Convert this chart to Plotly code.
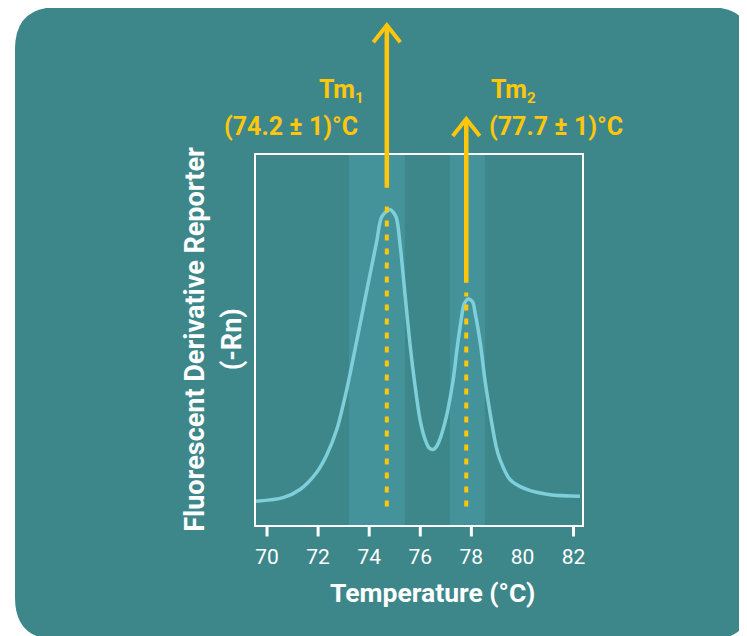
import plotly.graph_objects as go

# ---------------- data ----------------
temperature = [69.57, 70.63, 71.29, 71.94, 72.34, 72.73, 73.12, 73.51, 73.90, 74.29,
               74.49, 74.81, 75.05, 75.21, 75.40, 75.60, 75.79, 75.99,
               76.19, 76.34, 76.51, 76.66, 76.77, 76.93, 77.07, 77.29, 77.45, 77.59,
               77.72, 77.88, 78.05, 78.14, 78.37, 78.53, 78.73, 78.97, 79.12, 79.51,
               80.17, 81.08, 82.25]
derivative = [0.064, 0.074, 0.096, 0.142, 0.190, 0.258, 0.366, 0.497, 0.632, 0.765,
              0.833, 0.853, 0.833, 0.757, 0.625, 0.487, 0.379, 0.285,
              0.231, 0.209, 0.204, 0.215, 0.232, 0.268, 0.308, 0.393, 0.482, 0.549,
              0.598, 0.611, 0.603, 0.576, 0.482, 0.393, 0.304, 0.212, 0.177, 0.123,
              0.096, 0.082, 0.078]

tm_positions = [74.69, 77.80]          # where the marker lines sit
tm_names = ["Tm", "Tm"]
tm_subscripts = ["1", "2"]
tm_values = ["(74.2 ± 1)°C", "(77.7 ± 1)°C"]
band_low = [73.21, 77.16]
band_high = [75.40, 78.53]

tick_values = [70, 72, 74, 76, 78, 80, 82]
tick_labels = ["70", "72", "74", "76", "78", "80", "82"]
tick_mark_values = [70, 72, 74, 76, 78, 82]   # the 80 tick has no mark in the original

x_title = "Temperature (°C)"
y_title_lines = ["Fluorescent Derivative Reporter", "(-Rn)"]

# ---------------- styling ----------------
TEAL = "#3D878B"
BAND = "#45939A"
CURVE = "#7ECFD9"
YELLOW = "#FFC60B"
WHITE = "#FFFFFF"
BOLD_FONT = "Roboto"

OFF = 8                       # page body margin
W, H = 747 - OFF, 636 - OFF
L_REF, T_REF, R_REF, B_REF = 256, 155, 582, 525.5   # plot frame in window pixels
L, T = L_REF - OFF, T_REF - OFF
R, B = W - (R_REF - OFF), H - (B_REF - OFF)
pw, ph = R_REF - L_REF, B_REF - T_REF
X_RANGE = [69.568, 82.332]

def px_to_paper_x(px):
    return (px - L_REF) / pw

def py_to_paper_y(py):
    return (B_REF - py) / ph

fig = go.Figure()

fig.add_trace(go.Scatter(
    x=temperature, y=derivative, mode="lines",
    line=dict(color=CURVE, width=3.5, shape="spline", smoothing=0.8),
    hoverinfo="skip", showlegend=False,
))

shapes = []

# rounded background panel (paper coords)
lx, rx_ = px_to_paper_x(15), px_to_paper_x(752)
ty, by = py_to_paper_y(7), py_to_paper_y(640)
cr_x, cr_y = 42 / pw, 42 / ph
path = (f"M {lx+cr_x},{ty} L {rx_-cr_x},{ty} Q {rx_},{ty} {rx_},{ty-cr_y} "
        f"L {rx_},{by+cr_y} Q {rx_},{by} {rx_-cr_x},{by} "
        f"L {lx+cr_x},{by} Q {lx},{by} {lx},{by+cr_y} "
        f"L {lx},{ty-cr_y} Q {lx},{ty} {lx+cr_x},{ty} Z")
shapes.append(dict(type="path", path=path, xref="paper", yref="paper",
                   fillcolor=TEAL, line=dict(width=0), layer="below"))

# highlight bands
for lo, hi in zip(band_low, band_high):
    shapes.append(dict(type="rect", xref="x", yref="paper", x0=lo, x1=hi, y0=0, y1=1,
                       fillcolor=BAND, line=dict(width=0), layer="below"))

# tick marks
for tv in tick_mark_values:
    shapes.append(dict(type="line", xref="x", yref="paper", x0=tv, x1=tv,
                       y0=0, y1=-11.5 / ph, line=dict(color=WHITE, width=3),
                       layer="above"))

# marker lines & arrows
arrow_tip = [py_to_paper_y(25), py_to_paper_y(119)]
solid_bottom = [py_to_paper_y(187.7), py_to_paper_y(283)]
dotted_top = [py_to_paper_y(203), py_to_paper_y(292.7)]
dotted_bottom = py_to_paper_y(507)
chev_dx = 13.5 / (pw / (X_RANGE[1] - X_RANGE[0]))
chev_dy = 17 / ph

for i, tm in enumerate(tm_positions):
    shapes.append(dict(type="line", xref="x", yref="paper", x0=tm, x1=tm,
                       y0=dotted_bottom, y1=dotted_top[i],
                       line=dict(color=YELLOW, width=4, dash="6px,8px"), layer="above"))
    shapes.append(dict(type="line", xref="x", yref="paper", x0=tm, x1=tm,
                       y0=solid_bottom[i], y1=arrow_tip[i] - 0.003,
                       line=dict(color=YELLOW, width=4.5), layer="above"))
    shapes.append(dict(type="path", xref="x", yref="paper",
                       path=(f"M {tm-chev_dx},{arrow_tip[i]-chev_dy} L {tm},{arrow_tip[i]} "
                             f"L {tm+chev_dx},{arrow_tip[i]-chev_dy}"),
                       line=dict(color=YELLOW, width=4), layer="above"))

annotations = []
# Tm labels
label_specs = [
    dict(xa="right", x_name=366, x_val=360),
    dict(xa="left", x_name=489, x_val=487),
]
for i, spec in enumerate(label_specs):
    name = (f"<b>{tm_names[i]}<sub><span style='font-size:15px'>"
            f"{tm_subscripts[i]}</span></sub></b>")
    annotations.append(dict(text=name, xref="paper", yref="paper",
                            x=px_to_paper_x(spec["x_name"]), y=py_to_paper_y(91),
                            xanchor=spec["xa"], yanchor="middle", showarrow=False,
                            font=dict(family=BOLD_FONT, size=25, color=YELLOW)))
    annotations.append(dict(text=f"<b>{tm_values[i]}</b>", xref="paper", yref="paper",
                            x=px_to_paper_x(spec["x_val"]), y=py_to_paper_y(126),
                            xanchor=spec["xa"], yanchor="middle", showarrow=False,
                            font=dict(family=BOLD_FONT, size=25, color=YELLOW)))

# axis titles
annotations.append(dict(text=f"<b>{x_title}</b>", xref="paper", yref="paper",
                        x=px_to_paper_x(432), y=py_to_paper_y(593),
                        xanchor="center", yanchor="middle", showarrow=False,
                        font=dict(family=BOLD_FONT, size=26.5, color=WHITE)))
for line_txt, cx in zip(y_title_lines, [195, 231.5]):
    annotations.append(dict(text=f"<b>{line_txt}</b>", xref="paper", yref="paper",
                            x=px_to_paper_x(cx), y=py_to_paper_y(340),
                            xanchor="center", yanchor="middle", textangle=-90,
                            showarrow=False,
                            font=dict(family=BOLD_FONT, size=27, color=WHITE)))

fig.update_layout(
    width=W, height=H,
    margin=dict(l=L, r=R, t=T, b=B, pad=0),
    paper_bgcolor="white",
    plot_bgcolor="rgba(0,0,0,0)",
    shapes=shapes,
    annotations=annotations,
    showlegend=False,
    xaxis=dict(range=X_RANGE, tickmode="array", tickvals=tick_values,
               ticktext=tick_labels, ticks="outside", ticklen=12, tickwidth=2.5,
               tickcolor="rgba(0,0,0,0)", showline=True, linecolor=WHITE, linewidth=2.2,
               mirror=True, showgrid=False, zeroline=False,
               tickfont=dict(family="Roboto", size=21, color=WHITE)),
    yaxis=dict(range=[0, 1], showticklabels=False, ticks="", showline=True,
               linecolor=WHITE, linewidth=2.2, mirror=True, showgrid=False,
               zeroline=False),
)

fig.write_html("out.html")
